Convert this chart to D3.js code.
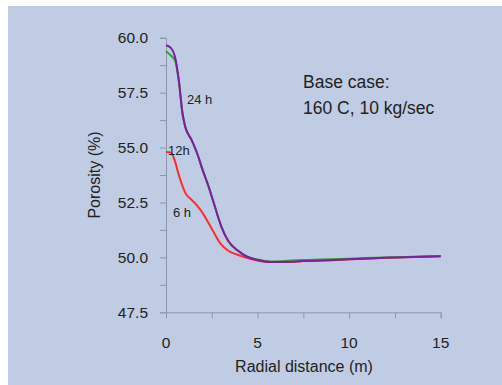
<!DOCTYPE html>
<html>
<head>
<meta charset="utf-8">
<script src="https://cdn.jsdelivr.net/npm/d3@7"></script>
<style>
  html, body { margin: 0; padding: 0; background: #ffffff; }
  svg { display: block; font-family: "Liberation Sans", Arial, sans-serif; }
</style>
</head>
<body>
<div id="chart"></div>
<script>
// radial distance (m), shared by all three series
var distance = [0, 0.25, 0.5, 0.7, 0.9, 1.05, 1.4, 1.7, 2.0, 2.3, 2.6, 3.0, 3.4, 3.9, 4.4, 5.0, 5.7, 6.5, 7.5, 8.5, 10, 12, 15];

// porosity (%) after 6 h, 12 h, 24 h
var porosity6h  = [54.8, 54.78, 54.35, 53.75, 53.25, 52.95, 52.62, 52.36, 52.02, 51.6, 51.15, 50.6, 50.3, 50.12, 49.98, 49.86, 49.79, 49.79, 49.83, 49.86, 49.91, 49.98, 50.05];
var porosity12h = [59.38, 59.2, 58.95, 58.02, 56.56, 55.95, 55.34, 54.74, 53.98, 53.29, 52.5, 51.45, 50.75, 50.32, 50.05, 49.9, 49.81, 49.84, 49.88, 49.9, 49.94, 50.0, 50.06];
var porosity24h = [59.66, 59.55, 59.1, 58.07, 56.56, 55.95, 55.34, 54.74, 53.98, 53.29, 52.5, 51.45, 50.75, 50.32, 50.04, 49.88, 49.79, 49.79, 49.83, 49.86, 49.91, 49.98, 50.05];

var xTicks = [0, 5, 10, 15];
var yTicks = [47.5, 50.0, 52.5, 55.0, 57.5, 60.0];

var width = 502,
    height = 385;

var svg = d3.select("#chart").append("svg")
    .attr("width", width)
    .attr("height", height);

// light blue slide panel
svg.append("rect")
    .attr("x", 8).attr("y", 6)
    .attr("width", width - 8).attr("height", height - 6)
    .attr("fill", "#c0cce3");

var x = d3.scaleLinear().domain([0, 15]).range([166, 440.7]);
var y = d3.scaleLinear().domain([47.5, 60]).range([312.3, 37.7]);

var axisColor = "#8e97aa";

// x axis
var xAxis = svg.append("g")
    .attr("transform", "translate(0," + y(47.5) + ")")
    .call(d3.axisBottom(x).tickValues(d3.range(0, 15.01, 2.5)).tickSize(6).tickFormat(""));
xAxis.selectAll("path, line").attr("stroke", axisColor);

svg.selectAll(".xlab")
    .data(xTicks)
    .enter().append("text")
    .attr("x", function(d) { return x(d); })
    .attr("y", 348)
    .attr("text-anchor", "middle")
    .attr("font-size", 15.5)
    .attr("fill", "#222")
    .text(function(d) { return d; });

// y axis
var yAxis = svg.append("g")
    .attr("transform", "translate(" + x(0) + ",0)")
    .call(d3.axisLeft(y).tickValues(d3.range(47.5, 60.01, 1.25)).tickSize(6).tickFormat(""));
yAxis.selectAll("path, line").attr("stroke", axisColor);

svg.selectAll(".ylab")
    .data(yTicks)
    .enter().append("text")
    .attr("x", 148)
    .attr("y", function(d) { return y(d) + 5.5; })
    .attr("text-anchor", "end")
    .attr("font-size", 15.5)
    .attr("fill", "#222")
    .text(function(d) { return d.toFixed(1); });

// axis titles
svg.append("text")
    .attr("x", 304)
    .attr("y", 372)
    .attr("text-anchor", "middle")
    .attr("font-size", 16)
    .attr("fill", "#222")
    .text("Radial distance (m)");

svg.append("text")
    .attr("transform", "translate(100,175) rotate(-90)")
    .attr("text-anchor", "middle")
    .attr("font-size", 16)
    .attr("fill", "#222")
    .text("Porosity (%)");

// curves
var line = d3.line()
    .x(function(d) { return x(d[0]); })
    .y(function(d) { return y(d[1]); })
    .curve(d3.curveMonotoneX);

var series = [
    { values: porosity6h,  color: "#ff2a2a" },
    { values: porosity12h, color: "#3c9a34" },
    { values: porosity24h, color: "#7d1f9e" }
];

series.forEach(function(s) {
    svg.append("path")
        .datum(d3.zip(distance, s.values))
        .attr("fill", "none")
        .attr("stroke", s.color)
        .attr("stroke-width", 2)
        .attr("d", line);
});

// curve labels
var labels = [
    { text: "24 h", x: 187, y: 104 },
    { text: "12h",  x: 168, y: 155 },
    { text: "6 h",  x: 173, y: 217 }
];
svg.selectAll(".clab")
    .data(labels)
    .enter().append("text")
    .attr("x", function(d) { return d.x; })
    .attr("y", function(d) { return d.y; })
    .attr("font-size", 13)
    .attr("fill", "#222")
    .text(function(d) { return d.text; });

// case annotation
svg.append("text")
    .attr("x", 303).attr("y", 88)
    .attr("font-size", 17.5)
    .attr("fill", "#222")
    .text("Base case:");
svg.append("text")
    .attr("x", 303).attr("y", 114)
    .attr("font-size", 17.5)
    .attr("fill", "#222")
    .text("160 C, 10 kg/sec");
</script>
</body>
</html>
